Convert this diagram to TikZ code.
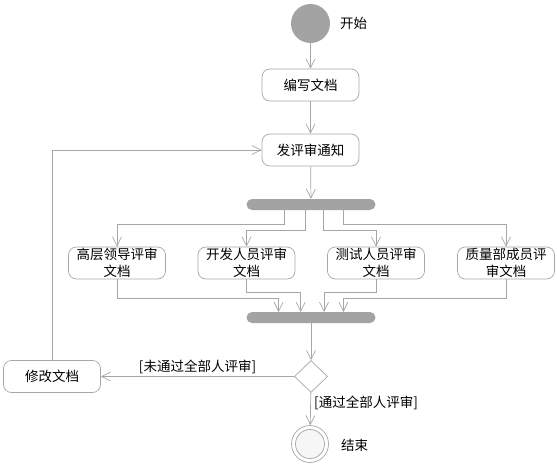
\documentclass[tikz,border=0pt]{standalone}
\usepackage{fontspec}
\setmainfont{Noto Sans CJK SC}
\usetikzlibrary{arrows.meta,shapes.geometric}
\definecolor{ln}{HTML}{A6A6A6}
\definecolor{barc}{HTML}{A3A3A3}
\begin{document}
\begin{tikzpicture}[x=1pt,y=-1pt,
  font=\fontsize{13.5}{15}\selectfont,
  act/.style={draw=ln,line width=0.7pt,rounded corners=8pt,minimum width=97pt,minimum height=32pt,inner sep=1pt,align=center,text width=92pt,font=\fontsize{13.5}{16.5}\selectfont},
  bar/.style={fill=barc,rounded corners=5.5pt,minimum width=129pt,minimum height=11pt,inner sep=0pt},
  conn/.style={draw=ln,line width=0.7pt,-{Straight Barb[length=9pt,width=9pt,line width=0.7pt]}},
  lab/.style={inner sep=1pt}]
\useasboundingbox (0,0) rectangle (557,469);
\node[circle,fill=barc,minimum size=39pt,inner sep=0pt] (start) at (310.5,23.5) {};
\node[lab,anchor=west] (starttxt) at (339,23) {开始};
\node[act] (write) at (310.5,85) {编写文档};
\node[act] (notify) at (310.5,150) {发评审通知};
\node[bar] (fork) at (311,204.5) {};
\node[act] (r1) at (117,263) {高层领导评审\\文档};
\node[act] (r2) at (246.5,263) {开发人员评审\\文档};
\node[act] (r3) at (376,263) {测试人员评审\\文档};
\node[act] (r4) at (506,263) {质量部成员评\\审文档};
\node[bar] (join) at (311,317.5) {};
\node[diamond,draw=ln,line width=0.7pt,minimum width=33pt,minimum height=32pt,inner sep=0pt] (dec) at (311,376.5) {};
\node[act] (modify) at (52,376.5) {修改文档};
\node[circle,draw=ln,line width=0.7pt,fill=white,minimum size=37pt,inner sep=0pt] (end) at (310,444) {};
\node[circle,draw=ln,line width=0.7pt,fill=gray!6,minimum size=29pt,inner sep=0pt] (endin) at (end.center) {};
\node[lab,anchor=west] (endtxt) at (340,445) {结束};
\coordinate (f1) at (284.7,210);
\coordinate (f2) at (305,210);
\coordinate (f3) at (323,210);
\coordinate (f4) at (343.8,210);
\coordinate (j1) at (278.6,312);
\coordinate (j2) at (300.7,312);
\coordinate (j3) at (324,312);
\coordinate (j4) at (343.4,312);
\draw[conn] (start) -- (write);
\draw[conn] (write) -- (notify);
\draw[conn] (notify) -- (fork);
\draw[conn] (f1) |- (117,224.3) -- (r1.north);
\draw[conn] (f2) |- (246.5,230) -- (r2.north);
\draw[conn] (f3) |- (376,230) -- (r3.north);
\draw[conn] (f4) |- (506,224.3) -- (r4.north);
\draw[conn] (r1.south) |- (278.6,298) -- (j1);
\draw[conn] (r2.south) |- (300.7,292) -- (j2);
\draw[conn] (r3.south) |- (324,292) -- (j3);
\draw[conn] (r4.south) |- (343.4,298) -- (j4);
\draw[conn] (join) -- (dec);
\draw[conn] (dec) -- node[lab,above,pos=0.5,yshift=1pt] (nolab) {[未通过全部人评审]} (modify);
\draw[conn] (modify.north) |- (notify.west);
\draw[conn] (dec) -- (end);
\node[lab,anchor=west] (yeslab) at (313,403) {[通过全部人评审]};
\end{tikzpicture}
\end{document}
